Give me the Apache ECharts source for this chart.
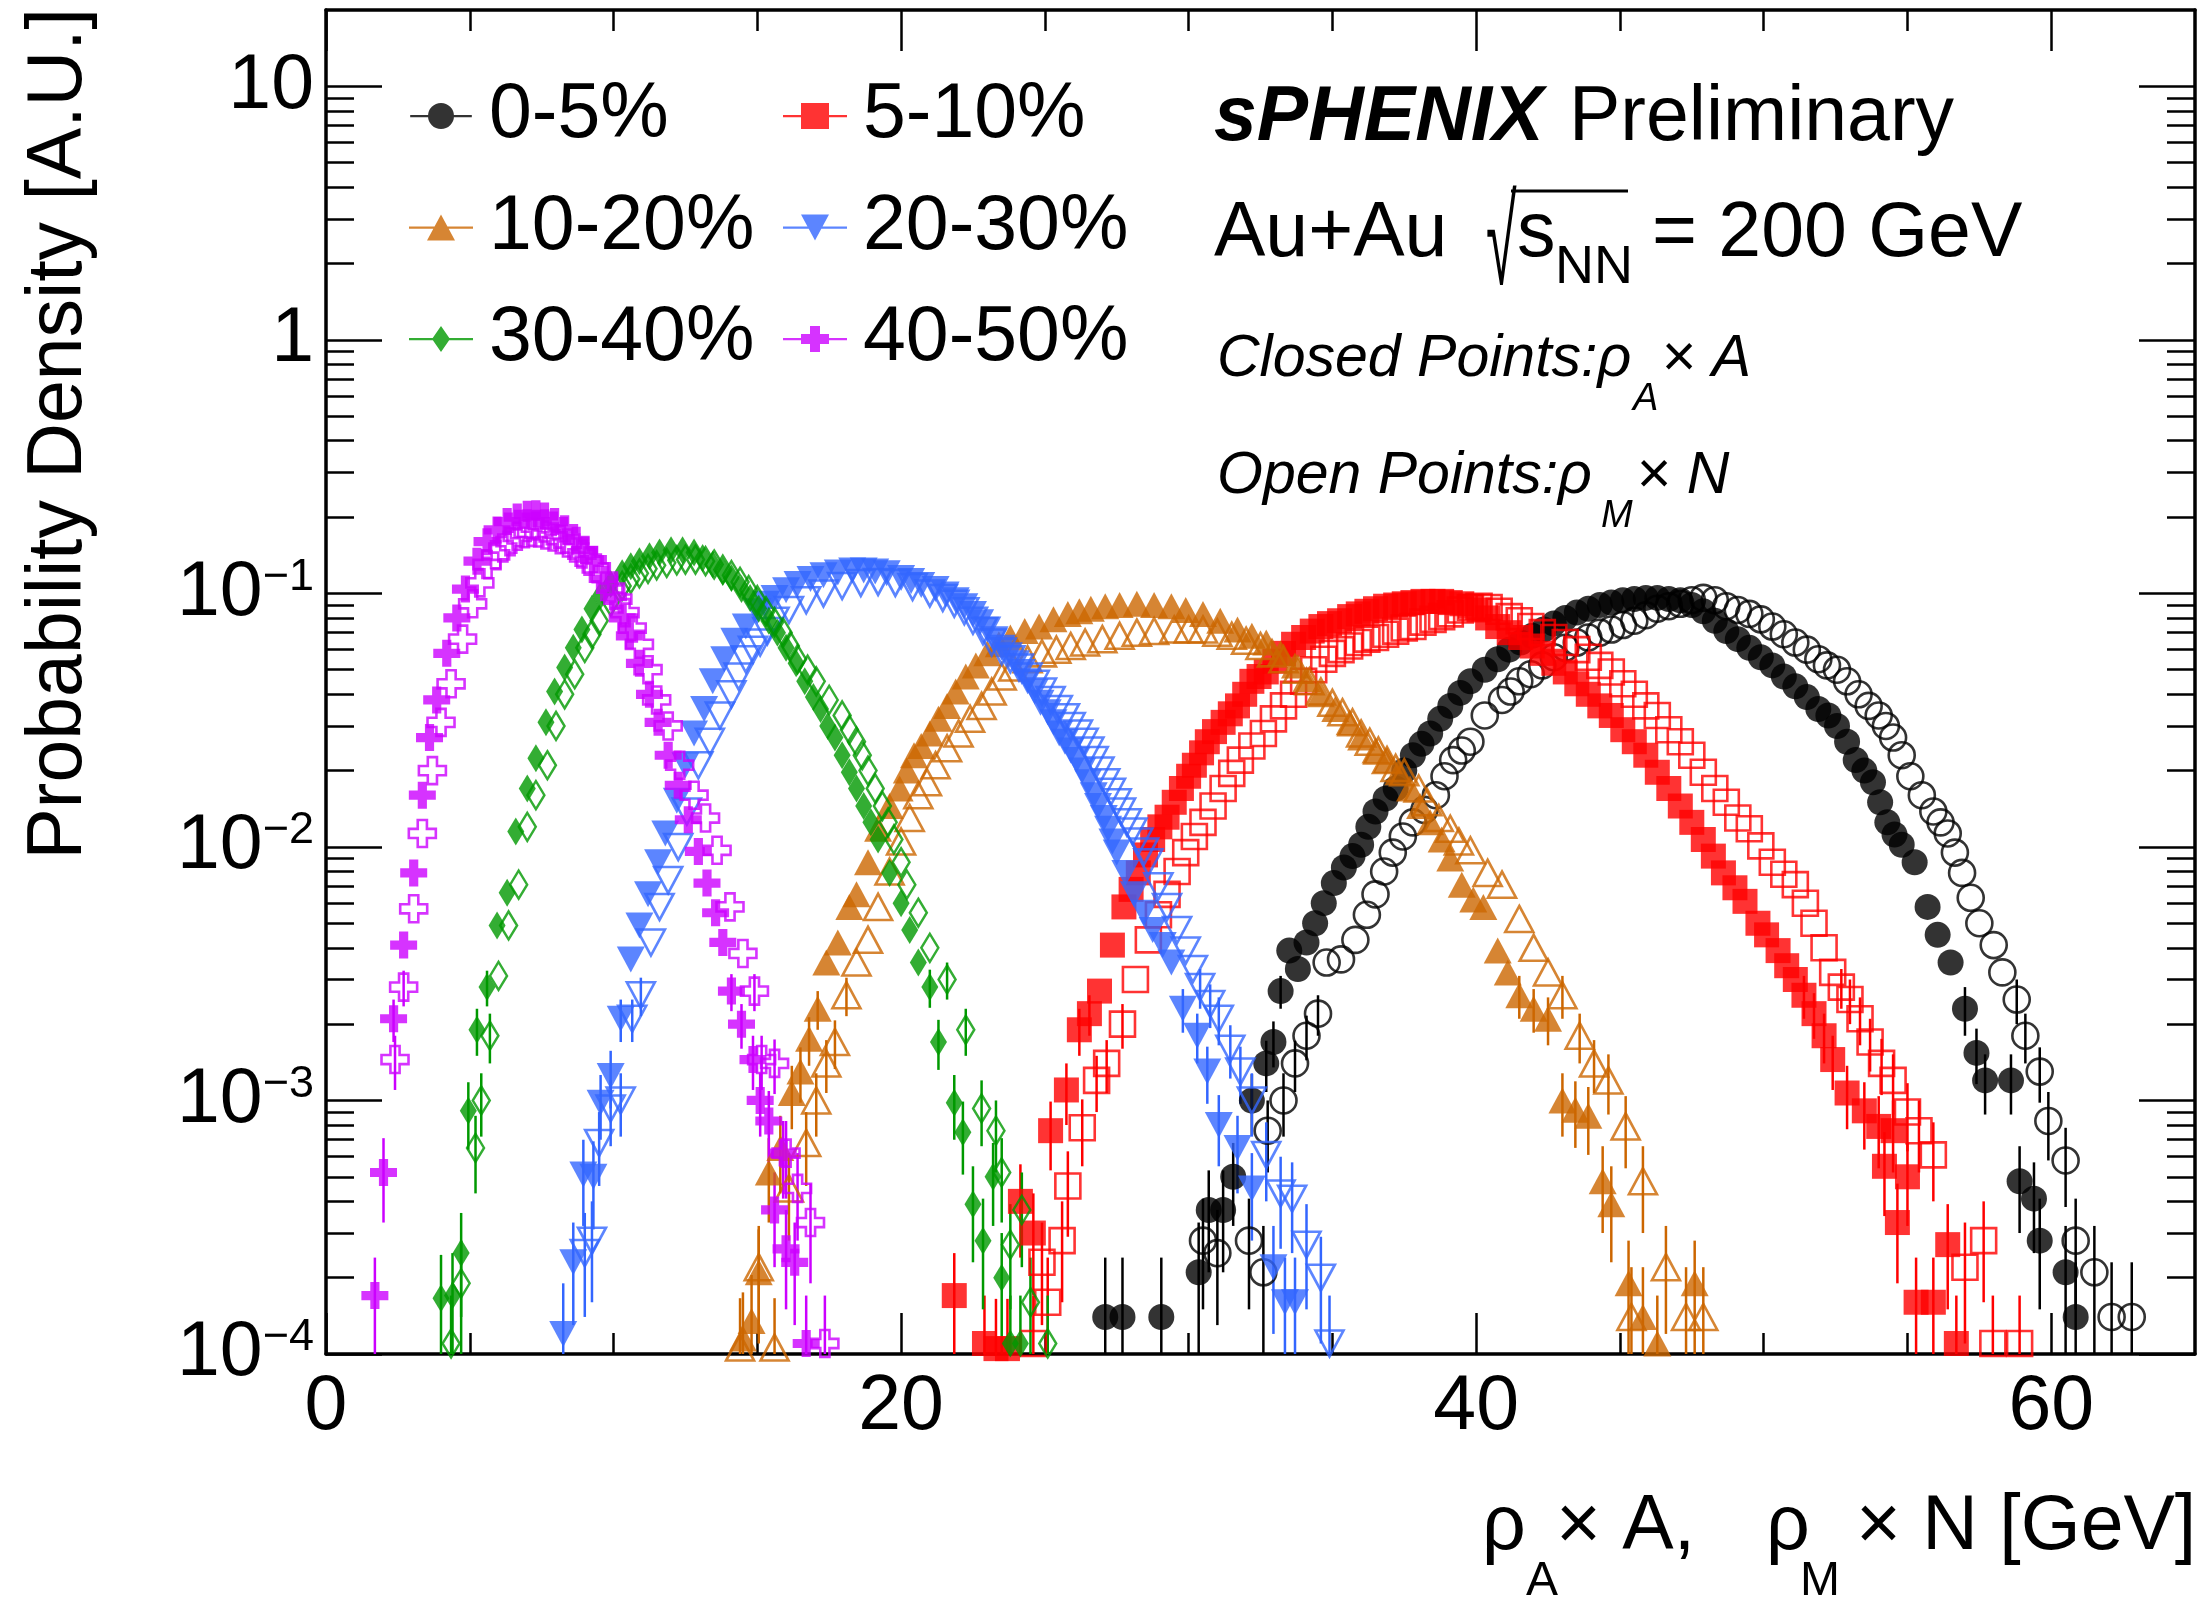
<!DOCTYPE html>
<html>
<head>
<meta charset="utf-8">
<script src="https://cdn.jsdelivr.net/npm/echarts@6/dist/echarts.min.js"></script>
<style>
html,body{margin:0;padding:0;background:#fff;}
#chart{width:2201px;height:1599px;}
</style>
</head>
<body>
<div id="chart"></div>
<script>
// ---------------- data: [x (GeV), probability density, (optional) error] ----------------
const C0_5 = [[27.1,1.4e-4,1.0e-4],[27.7,1.4e-4,1.0e-4],[29.05,1.4e-4,1.0e-4],[30.35,2.1e-4,1.2e-4],[30.7,3.7e-4,1.6e-4],[31.2,3.7e-4,1.6e-4],[31.55,5.0e-4,1.8e-4],[32.2,1.0e-3,2.7e-4],[32.7,1.4e-3,3.2e-4],[32.95,1.7e-3,3.5e-4],[33.2,2.7e-3,4e-4],[33.5,3.9e-3],[33.8,3.3e-3],[34.1,4.2e-3],[34.4,5.0e-3],[34.7,6.0e-3],[35.05,7.2e-3],[35.4,8.3e-3],[35.7,9.2e-3],[36.0,1.02e-2],[36.25,1.2e-2],[36.5,1.38e-2],[36.85,1.55e-2],[37.2,1.7e-2],[37.5,2.0e-2],[37.8,2.3e-2],[38.1,2.55e-2],[38.4,2.8e-2],[38.75,3.2e-2],[39.1,3.6e-2],[39.45,4.05e-2],[39.8,4.5e-2],[40.3,5.0e-2],[40.75,5.5e-2],[41.15,6.0e-2],[41.55,6.4e-2],[41.95,6.8e-2],[42.35,7.2e-2],[42.7,7.6e-2],[43.1,8.0e-2],[43.5,8.4e-2],[43.9,8.7e-2],[44.3,9.0e-2],[44.7,9.2e-2],[45.1,9.4e-2],[45.5,9.5e-2],[45.9,9.6e-2],[46.3,9.6e-2],[46.7,9.5e-2],[47.1,9.4e-2],[47.5,9.0e-2],[47.9,8.5e-2],[48.3,7.8e-2],[48.7,7.1e-2],[49.1,6.6e-2],[49.5,6.1e-2],[49.9,5.6e-2],[50.3,5.2e-2],[50.7,4.7e-2],[51.1,4.3e-2],[51.5,3.9e-2],[51.9,3.5e-2],[52.25,3.3e-2],[52.55,3.0e-2],[52.9,2.6e-2],[53.2,2.2e-2],[53.5,2.0e-2],[53.8,1.8e-2],[54.05,1.5e-2],[54.3,1.25e-2],[54.55,1.12e-2],[54.8,1.02e-2],[55.25,8.7e-3],[55.7,5.8e-3],[56.05,4.5e-3],[56.5,3.5e-3],[57.0,2.3e-3,5e-4],[57.4,1.54e-3,3.8e-4],[57.7,1.2e-3,3.2e-4],[58.6,1.2e-3,3.2e-4],[58.9,4.8e-4,1.8e-4],[59.4,4.1e-4,1.6e-4],[59.6,2.8e-4,1.3e-4],[60.5,2.1e-4,1.1e-4],[60.85,1.4e-4,0.9e-4]];
const O0_5 = [[30.5,2.8e-4,1.3e-4],[31.0,2.5e-4,1.2e-4],[32.1,2.8e-4,1.3e-4],[32.6,2.1e-4,1.1e-4],[32.75,7.6e-4,2.4e-4],[33.3,1.0e-3,2.8e-4],[33.7,1.4e-3,3.2e-4],[34.1,1.8e-3,3.6e-4],[34.5,2.2e-3,4e-4],[34.8,3.5e-3],[35.3,3.6e-3],[35.8,4.3e-3],[36.2,5.4e-3],[36.5,6.5e-3],[36.8,8.0e-3],[37.1,9.5e-3],[37.45,1.1e-2],[37.8,1.25e-2],[38.2,1.4e-2],[38.6,1.6e-2],[38.9,1.9e-2],[39.2,2.2e-2],[39.5,2.4e-2],[39.8,2.6e-2],[40.3,3.3e-2],[40.9,3.8e-2],[41.2,4.1e-2],[41.5,4.5e-2],[41.9,4.8e-2],[42.3,5.2e-2],[42.7,5.6e-2],[43.1,6.1e-2],[43.5,6.4e-2],[43.9,6.7e-2],[44.3,7.0e-2],[44.7,7.2e-2],[45.1,7.5e-2],[45.5,7.8e-2],[45.9,8.2e-2],[46.3,8.7e-2],[46.7,8.9e-2],[47.1,9.1e-2],[47.5,9.4e-2],[47.9,9.6e-2],[48.3,9.4e-2],[48.7,8.9e-2],[49.1,8.6e-2],[49.5,8.3e-2],[49.9,7.9e-2],[50.3,7.4e-2],[50.7,6.9e-2],[51.1,6.4e-2],[51.5,6.0e-2],[51.9,5.5e-2],[52.2,5.2e-2],[52.55,5.0e-2],[52.9,4.5e-2],[53.3,4.0e-2],[53.65,3.6e-2],[54.0,3.3e-2],[54.25,3.0e-2],[54.5,2.7e-2],[54.8,2.3e-2],[55.1,1.9e-2],[55.5,1.6e-2],[55.9,1.38e-2],[56.15,1.25e-2],[56.4,1.13e-2],[56.65,9.5e-3],[56.9,7.9e-3],[57.2,6.3e-3],[57.5,5.0e-3],[58.0,4.1e-3],[58.3,3.2e-3],[58.8,2.5e-3,5e-4],[59.1,1.8e-3,4e-4],[59.6,1.3e-3,3.2e-4],[59.9,8.3e-4,2.5e-4],[60.5,5.8e-4,2.0e-4],[60.85,2.8e-4,1.3e-4],[61.5,2.1e-4,1.1e-4],[62.1,1.4e-4,0.9e-4],[62.8,1.4e-4,0.9e-4]];

const C5_10 = [[21.85,1.7e-4,0.8e-4],[22.9,1.1e-4,0.6e-4],[23.3,1.05e-4,0.6e-4],[23.7,1.05e-4,0.6e-4],[24.15,4.0e-4,1.6e-4],[24.6,3.0e-4,1.3e-4],[25.2,7.6e-4,2.3e-4],[25.75,1.1e-3,3e-4],[26.2,1.9e-3,4e-4],[26.55,2.2e-3,4e-4],[26.9,2.7e-3],[27.35,4.1e-3],[27.75,5.8e-3],[28.0,6.8e-3],[28.25,7.9e-3],[28.5,9.3e-3],[28.75,1.07e-2],[29.0,1.2e-2],[29.25,1.31e-2],[29.5,1.5e-2],[29.75,1.7e-2],[30.0,1.9e-2],[30.2,2.1e-2],[30.45,2.35e-2],[30.65,2.6e-2],[30.9,2.85e-2],[31.2,3.1e-2],[31.45,3.35e-2],[31.7,3.6e-2],[31.95,4.0e-2],[32.2,4.5e-2],[32.45,4.7e-2],[32.7,4.9e-2],[33.0,5.4e-2],[33.3,5.8e-2],[33.65,6.3e-2],[34.0,6.7e-2],[34.3,7.1e-2],[34.6,7.4e-2],[34.9,7.6e-2],[35.25,7.8e-2],[35.6,8.1e-2],[35.9,8.3e-2],[36.2,8.5e-2],[36.5,8.7e-2],[36.85,8.9e-2],[37.2,9.0e-2],[37.5,9.1e-2],[37.8,9.2e-2],[38.15,9.3e-2],[38.5,9.3e-2],[38.8,9.3e-2],[39.1,9.2e-2],[39.5,9.1e-2],[39.8,8.9e-2],[40.1,8.6e-2],[40.4,8.0e-2],[40.75,7.4e-2],[41.15,7.0e-2],[41.55,6.7e-2],[41.95,6.2e-2],[42.3,5.8e-2],[42.7,5.3e-2],[43.1,4.9e-2],[43.5,4.4e-2],[43.9,4.0e-2],[44.3,3.6e-2],[44.7,3.3e-2],[45.1,2.9e-2],[45.5,2.6e-2],[45.9,2.3e-2],[46.3,1.97e-2],[46.7,1.7e-2],[47.1,1.45e-2],[47.5,1.25e-2],[47.9,1.07e-2],[48.25,9.2e-3],[48.6,7.9e-3],[49.0,6.9e-3],[49.35,6.1e-3],[49.8,5.0e-3],[50.1,4.5e-3],[50.5,3.9e-3],[50.8,3.4e-3],[51.1,3.0e-3],[51.4,2.6e-3,5e-4],[51.75,2.2e-3,4.5e-4],[52.1,1.8e-3,4e-4],[52.4,1.45e-3,3.5e-4],[52.9,1.07e-3,3e-4],[53.5,9.1e-4,2.7e-4],[54.0,7.9e-4,2.5e-4],[54.2,5.5e-4,2e-4],[54.5,7.6e-4,2.4e-4],[54.65,3.3e-4,1.4e-4],[55.0,5.0e-4,1.8e-4],[55.3,1.6e-4,0.8e-4],[55.9,1.6e-4,0.8e-4],[56.4,2.7e-4,1.2e-4],[56.7,1.1e-4,0.6e-4]];
const O5_10 = [[24.6,1.1e-4,0.6e-4],[24.9,2.3e-4,1.0e-4],[25.1,1.6e-4,0.8e-4],[25.6,2.8e-4,1.2e-4],[25.8,4.6e-4,1.7e-4],[26.3,7.8e-4,2.3e-4],[26.8,1.2e-3,3e-4],[27.15,1.4e-3,3.3e-4],[27.7,2.0e-3,4e-4],[28.15,3.0e-3],[28.6,4.3e-3],[28.95,5.4e-3],[29.25,6.5e-3],[29.6,8.0e-3],[29.9,9.5e-3],[30.2,1.1e-2],[30.5,1.25e-2],[30.85,1.45e-2],[31.2,1.7e-2],[31.5,1.95e-2],[31.8,2.2e-2],[32.2,2.5e-2],[32.6,2.8e-2],[32.95,3.2e-2],[33.3,3.6e-2],[33.65,4.0e-2],[34.0,4.5e-2],[34.35,5.0e-2],[34.7,5.5e-2],[35.0,5.8e-2],[35.3,6.0e-2],[35.6,6.2e-2],[35.9,6.4e-2],[36.2,6.6e-2],[36.5,6.7e-2],[36.85,6.9e-2],[37.2,7.1e-2],[37.5,7.3e-2],[37.8,7.4e-2],[38.15,7.7e-2],[38.5,7.9e-2],[38.8,8.1e-2],[39.1,8.3e-2],[39.45,8.6e-2],[39.8,8.8e-2],[40.1,8.9e-2],[40.45,8.8e-2],[40.8,8.5e-2],[41.15,8.1e-2],[41.5,7.8e-2],[41.9,7.4e-2],[42.3,7.0e-2],[42.7,6.7e-2],[43.1,6.4e-2],[43.5,6.0e-2],[43.9,5.6e-2],[44.3,5.2e-2],[44.7,4.9e-2],[45.1,4.4e-2],[45.5,4.0e-2],[45.9,3.6e-2],[46.3,3.3e-2],[46.7,2.9e-2],[47.1,2.6e-2],[47.5,2.3e-2],[47.9,1.97e-2],[48.3,1.7e-2],[48.7,1.5e-2],[49.1,1.3e-2],[49.5,1.18e-2],[49.9,1.01e-2],[50.3,8.7e-3],[50.7,7.8e-3],[51.1,7.1e-3],[51.45,6.0e-3],[51.75,5.0e-3],[52.1,4.0e-3],[52.4,3.2e-3],[52.7,2.8e-3,5e-4],[53.0,2.5e-3,5e-4],[53.35,2.1e-3,4.5e-4],[53.7,1.7e-3,4e-4],[54.1,1.4e-3,3.5e-4],[54.5,1.2e-3,3.2e-4],[55.0,9.0e-4,2.7e-4],[55.4,7.6e-4,2.4e-4],[55.9,6.1e-4,2.1e-4],[57.0,2.2e-4,1.1e-4],[57.65,2.8e-4,1.2e-4],[57.97,1.1e-4,0.6e-4],[58.9,1.1e-4,0.6e-4]];

const C10_20 = [[14.5,1.15e-4,0.6e-4],[14.8,1.35e-4,0.7e-4],[15.05,2.1e-4,1.0e-4],[15.4,5.2e-4,1.9e-4],[15.8,6.5e-4,2.2e-4],[16.2,1.07e-3,3e-4],[16.5,1.3e-3,3.2e-4],[16.8,1.75e-3,3.8e-4],[17.1,2.3e-3,4e-4],[17.4,3.5e-3],[17.8,4.2e-3],[18.2,5.8e-3],[18.45,6.5e-3],[18.85,8.7e-3],[19.2,1.18e-2],[19.6,1.45e-2],[19.95,1.7e-2],[20.2,2.0e-2],[20.45,2.3e-2],[20.7,2.5e-2],[21.0,2.8e-2],[21.3,3.2e-2],[21.6,3.6e-2],[21.9,4.1e-2],[22.25,4.7e-2],[22.6,5.2e-2],[23.0,5.8e-2],[23.4,6.3e-2],[23.8,6.7e-2],[24.3,7.1e-2],[24.8,7.4e-2],[25.3,7.9e-2],[25.8,8.3e-2],[26.2,8.5e-2],[26.6,8.7e-2],[27.1,8.9e-2],[27.6,9.0e-2],[28.2,9.1e-2],[28.8,9.0e-2],[29.4,8.9e-2],[29.9,8.6e-2],[30.5,8.3e-2],[31.1,7.8e-2],[31.7,7.2e-2],[32.2,6.8e-2],[32.7,6.4e-2],[33.2,5.8e-2],[33.7,5.2e-2],[34.1,4.6e-2],[34.6,4.0e-2],[35.1,3.5e-2],[35.6,3.1e-2],[36.0,2.7e-2],[36.5,2.4e-2],[36.9,2.2e-2],[37.3,1.97e-2],[37.7,1.7e-2],[38.05,1.45e-2],[38.4,1.25e-2],[38.8,1.07e-2],[39.1,9.0e-3],[39.5,7.1e-3],[39.9,6.2e-3],[40.25,5.8e-3],[40.75,3.9e-3],[41.1,3.2e-3],[41.5,2.6e-3,5e-4],[42.0,2.3e-3,4.5e-4],[42.5,2.1e-3,4.5e-4],[43.0,1.0e-3,2.8e-4],[43.45,9.2e-4,2.7e-4],[43.9,8.7e-4,2.6e-4],[44.4,4.8e-4,1.8e-4],[44.7,3.9e-4,1.6e-4],[45.3,1.9e-4,0.9e-4],[45.8,1.4e-4,0.8e-4],[46.3,1.1e-4,0.6e-4],[47.6,1.9e-4,0.9e-4]];
const O10_20 = [[14.4,1.06e-4,0.6e-4],[15.05,2.2e-4,1.0e-4],[15.6,1.06e-4,0.6e-4],[16.1,4.5e-4,1.7e-4],[16.7,6.8e-4,2.2e-4],[17.05,1.0e-3,2.8e-4],[17.4,1.4e-3,3.3e-4],[17.7,1.7e-3,3.7e-4],[18.1,2.6e-3,4.5e-4],[18.45,3.5e-3],[18.85,4.3e-3],[19.2,5.8e-3],[19.6,8.0e-3],[20.0,1.05e-2],[20.3,1.3e-2],[20.6,1.6e-2],[20.9,1.8e-2],[21.2,2.1e-2],[21.6,2.45e-2],[22.0,2.8e-2],[22.4,3.2e-2],[22.8,3.6e-2],[23.15,4.1e-2],[23.5,4.7e-2],[23.9,5.1e-2],[24.4,5.5e-2],[24.9,5.8e-2],[25.4,6.0e-2],[25.9,6.2e-2],[26.4,6.4e-2],[27.0,6.6e-2],[27.6,6.8e-2],[28.2,7.0e-2],[28.8,7.1e-2],[29.5,7.2e-2],[30.0,7.2e-2],[30.5,7.2e-2],[31.0,7.0e-2],[31.5,6.8e-2],[32.0,6.5e-2],[32.5,6.2e-2],[32.9,5.8e-2],[33.3,5.5e-2],[33.8,5.0e-2],[34.2,4.5e-2],[34.6,4.1e-2],[35.0,3.7e-2],[35.35,3.4e-2],[35.7,3.1e-2],[36.0,2.8e-2],[36.3,2.6e-2],[36.6,2.4e-2],[36.9,2.2e-2],[37.2,2.05e-2],[37.5,1.97e-2],[38.0,1.7e-2],[38.3,1.5e-2],[38.7,1.3e-2],[39.1,1.18e-2],[39.4,1.05e-2],[39.8,9.7e-3],[40.4,7.9e-3],[40.9,7.1e-3],[41.5,5.2e-3],[42.0,4.0e-3],[42.5,3.2e-3],[43.0,2.6e-3,5e-4],[43.6,1.8e-3,4e-4],[44.1,1.4e-3,3.3e-4],[44.6,1.2e-3,3.2e-4],[45.2,7.9e-4,2.5e-4],[45.4,1.4e-4,0.8e-4],[45.8,4.8e-4,1.8e-4],[46.6,2.2e-4,1.0e-4],[47.3,1.4e-4,0.8e-4],[47.9,1.4e-4,0.8e-4]];

const C20_30 = [[8.25,1.2e-4,0.7e-4],[8.6,2.3e-4,1.0e-4],[8.95,5.1e-4,1.9e-4],[9.3,5.0e-4,1.9e-4],[9.55,9.8e-4,2.8e-4],[9.9,1.25e-3,3.2e-4],[10.25,2.1e-3,4e-4],[10.6,3.6e-3],[10.9,4.9e-3],[11.2,6.5e-3],[11.55,8.7e-3],[11.8,1.13e-2],[12.2,1.52e-2],[12.5,2.1e-2],[12.8,2.8e-2],[13.15,3.5e-2],[13.45,4.5e-2],[13.85,5.5e-2],[14.2,6.5e-2],[14.6,7.4e-2],[15.0,8.5e-2],[15.3,9.1e-2],[15.6,9.6e-2],[16.0,1.03e-1],[16.4,1.09e-1],[16.85,1.14e-1],[17.3,1.18e-1],[17.8,1.21e-1],[18.3,1.23e-1],[18.7,1.23e-1],[19.1,1.22e-1],[19.5,1.2e-1],[20.0,1.15e-1],[20.35,1.12e-1],[20.7,1.08e-1],[21.2,1.04e-1],[21.55,9.9e-2],[21.9,9.4e-2],[22.2,8.9e-2],[22.5,8.3e-2],[22.75,7.7e-2],[23.0,7.2e-2],[23.25,6.6e-2],[23.5,6.1e-2],[23.75,5.7e-2],[24.0,5.3e-2],[24.2,4.9e-2],[24.4,4.5e-2],[24.65,4.1e-2],[24.85,3.7e-2],[25.1,3.4e-2],[25.3,3.1e-2],[25.5,2.8e-2],[25.7,2.6e-2],[25.9,2.4e-2],[26.1,2.2e-2],[26.3,2.0e-2],[26.5,1.8e-2],[26.7,1.6e-2],[26.85,1.45e-2],[27.05,1.3e-2],[27.2,1.18e-2],[27.35,1.05e-2],[27.5,9.5e-3],[27.8,7.9e-3],[28.1,6.5e-3],[28.45,5.5e-3],[28.75,4.7e-3],[29.1,4.1e-3],[29.4,3.5e-3],[29.8,2.3e-3,4.5e-4],[30.3,1.8e-3,4e-4],[30.65,1.3e-3,3.3e-4],[31.05,8.0e-4,2.5e-4],[31.7,6.5e-4,2.2e-4],[32.2,4.5e-4,1.7e-4],[32.95,2.2e-4,1.0e-4],[33.35,1.6e-4,0.8e-4],[33.7,1.6e-4,0.8e-4]];
const O20_30 = [[9.0,2.5e-4,1.1e-4],[9.25,2.8e-4,1.2e-4],[9.5,6.8e-4,2.2e-4],[9.9,9.3e-4,2.7e-4],[10.25,1.0e-3,2.8e-4],[10.65,2.1e-3,4e-4],[10.95,2.6e-3,4.5e-4],[11.3,4.2e-3],[11.6,5.8e-3],[11.9,7.4e-3],[12.25,1.0e-2],[12.55,1.38e-2],[12.95,2.1e-2],[13.35,2.6e-2],[13.7,3.3e-2],[14.1,4.0e-2],[14.35,4.7e-2],[14.6,5.5e-2],[14.85,6.0e-2],[15.1,6.4e-2],[15.35,7.1e-2],[15.6,7.8e-2],[16.1,8.6e-2],[16.7,9.4e-2],[17.3,1.0e-1],[17.95,1.07e-1],[18.6,1.1e-1],[19.2,1.11e-1],[19.8,1.1e-1],[20.4,1.06e-1],[21.0,1.0e-1],[21.45,9.6e-2],[21.85,9.1e-2],[22.2,8.5e-2],[22.5,7.8e-2],[22.85,7.1e-2],[23.15,6.4e-2],[23.5,5.9e-2],[23.8,5.5e-2],[24.1,5.1e-2],[24.4,4.7e-2],[24.65,4.4e-2],[24.9,4.1e-2],[25.2,3.8e-2],[25.45,3.5e-2],[25.7,3.25e-2],[25.9,3.0e-2],[26.15,2.8e-2],[26.35,2.6e-2],[26.55,2.4e-2],[26.7,2.2e-2],[26.9,2.0e-2],[27.1,1.8e-2],[27.3,1.65e-2],[27.5,1.5e-2],[27.65,1.38e-2],[27.85,1.25e-2],[28.05,1.15e-2],[28.25,1.05e-2],[28.45,9.6e-3],[28.6,8.7e-3],[28.95,7.0e-3],[29.25,5.8e-3],[29.6,4.7e-3],[29.9,3.9e-3],[30.15,3.3e-3],[30.4,2.8e-3,5e-4],[30.75,2.4e-3,4.7e-4],[31.05,2.1e-3,4.5e-4],[31.45,1.6e-3,3.8e-4],[31.8,1.3e-3,3.3e-4],[32.2,1.0e-3,2.8e-4],[32.7,6.1e-4,2.1e-4],[33.2,4.3e-4,1.7e-4],[33.6,4.1e-4,1.6e-4],[34.1,2.7e-4,1.2e-4],[34.6,2.0e-4,0.9e-4],[34.9,1.1e-4,0.6e-4]];

const C30_40 = [[4.0,1.66e-4,0.8e-4],[4.4,1.7e-4,0.8e-4],[4.7,2.5e-4,1.1e-4],[4.95,9.1e-4,2.7e-4],[5.25,1.9e-3,4e-4],[5.6,2.8e-3,4.5e-4],[5.95,4.9e-3],[6.3,6.6e-3],[6.6,1.15e-2],[7.0,1.7e-2],[7.3,2.24e-2],[7.65,3.1e-2],[7.95,4.1e-2],[8.3,5.1e-2],[8.6,6.1e-2],[8.9,7.2e-2],[9.25,8.7e-2],[9.55,9.8e-2],[9.9,1.09e-1],[10.3,1.2e-1],[10.6,1.28e-1],[10.9,1.34e-1],[11.25,1.4e-1],[11.6,1.45e-1],[12.0,1.48e-1],[12.4,1.48e-1],[12.8,1.45e-1],[13.1,1.38e-1],[13.45,1.3e-1],[13.8,1.22e-1],[14.1,1.15e-1],[14.45,1.04e-1],[14.75,9.6e-2],[15.05,8.7e-2],[15.4,7.8e-2],[15.7,7.0e-2],[16.0,6.1e-2],[16.35,5.3e-2],[16.65,4.5e-2],[16.95,3.9e-2],[17.2,3.5e-2],[17.45,3.0e-2],[17.7,2.7e-2],[17.95,2.3e-2],[18.2,1.97e-2],[18.45,1.7e-2],[18.7,1.45e-2],[18.95,1.25e-2],[19.2,1.07e-2],[19.6,7.9e-3],[20.0,6.0e-3],[20.3,4.7e-3],[20.6,3.5e-3],[21.0,2.8e-3,4.8e-4],[21.3,1.7e-3,3.8e-4],[21.85,9.8e-4,2.8e-4],[22.15,7.5e-4,2.4e-4],[22.5,3.9e-4,1.6e-4],[22.85,2.8e-4,1.3e-4],[23.2,5.0e-4,1.8e-4],[23.5,2.0e-4,1.0e-4],[23.8,1.1e-4,0.6e-4],[24.15,1.1e-4,0.6e-4]];
const O30_40 = [[4.35,1.1e-4,0.6e-4],[4.7,1.9e-4,0.9e-4],[5.2,6.5e-4,2.2e-4],[5.4,1.0e-3,2.8e-4],[5.7,1.8e-3,4e-4],[6.0,3.1e-3],[6.35,4.9e-3],[6.7,7.1e-3],[7.0,1.2e-2],[7.3,1.6e-2],[7.7,2.1e-2],[8.0,3.0e-2],[8.3,4.0e-2],[8.65,4.8e-2],[9.0,6.1e-2],[9.25,6.9e-2],[9.5,7.8e-2],[9.9,9.3e-2],[10.3,1.07e-1],[10.6,1.14e-1],[10.9,1.2e-1],[11.2,1.25e-1],[11.5,1.29e-1],[11.85,1.32e-1],[12.2,1.35e-1],[12.5,1.36e-1],[12.85,1.36e-1],[13.2,1.34e-1],[13.5,1.3e-1],[13.8,1.24e-1],[14.1,1.18e-1],[14.4,1.11e-1],[14.7,1.03e-1],[15.0,9.4e-2],[15.3,8.5e-2],[15.6,7.7e-2],[15.9,7.0e-2],[16.15,6.2e-2],[16.4,5.5e-2],[16.75,5.0e-2],[17.05,4.5e-2],[17.5,3.8e-2],[17.95,3.3e-2],[18.2,2.9e-2],[18.45,2.6e-2],[18.65,2.3e-2],[18.85,2.0e-2],[19.1,1.7e-2],[19.35,1.45e-2],[19.55,1.25e-2],[19.75,1.07e-2],[20.0,8.7e-3],[20.2,7.1e-3],[20.6,5.5e-3],[21.0,4.0e-3],[21.6,3.0e-3,5e-4],[22.25,1.9e-3,4e-4],[22.8,9.3e-4,2.7e-4],[23.3,7.6e-4,2.4e-4],[23.5,5.2e-4,1.9e-4],[23.8,2.7e-4,1.2e-4],[24.2,3.7e-4,1.5e-4],[24.5,1.6e-4,0.8e-4],[25.1,1.1e-4,0.6e-4]];

const C40_50 = [[1.7,1.7e-4,0.7e-4],[2.0,5.2e-4,1.9e-4],[2.35,2.1e-3,4e-4],[2.7,4.1e-3],[3.05,7.9e-3],[3.35,1.6e-2],[3.6,2.7e-2],[3.85,3.8e-2],[4.2,5.8e-2],[4.55,8.0e-2],[4.85,1.04e-1],[5.25,1.34e-1],[5.6,1.6e-1],[5.95,1.78e-1],[6.3,1.92e-1],[6.65,2.0e-1],[7.0,2.05e-1],[7.3,2.06e-1],[7.6,2.02e-1],[7.95,1.92e-1],[8.3,1.8e-1],[8.7,1.62e-1],[9.0,1.48e-1],[9.3,1.36e-1],[9.7,1.14e-1],[10.0,9.7e-2],[10.3,8.0e-2],[10.55,6.8e-2],[10.9,5.3e-2],[11.25,4.0e-2],[11.55,3.1e-2],[11.9,2.3e-2],[12.25,1.75e-2],[12.6,1.28e-2],[12.95,9.6e-3],[13.25,7.2e-3],[13.55,5.5e-3],[13.8,4.2e-3],[14.1,2.7e-3,4.5e-4],[14.45,2.0e-3,4e-4],[14.85,1.45e-3,3.5e-4],[15.1,1.0e-3,2.8e-4],[15.4,8.3e-4,2.6e-4],[15.6,3.7e-4,1.5e-4],[15.9,6.2e-4,2.1e-4],[16.0,2.6e-4,1.1e-4],[16.3,2.3e-4,1.0e-4],[16.7,1.1e-4,0.6e-4]];
const O40_50 = [[2.4,1.45e-3,3.5e-4],[2.7,2.8e-3,4.5e-4],[3.05,5.7e-3],[3.35,1.13e-2],[3.7,2.0e-2],[4.0,3.1e-2],[4.35,4.4e-2],[4.75,6.6e-2],[5.1,9.1e-2],[5.35,1.1e-1],[5.6,1.3e-1],[5.9,1.42e-1],[6.15,1.51e-1],[6.4,1.6e-1],[6.65,1.68e-1],[6.9,1.72e-1],[7.15,1.74e-1],[7.4,1.73e-1],[7.65,1.7e-1],[7.9,1.67e-1],[8.15,1.63e-1],[8.4,1.58e-1],[8.65,1.51e-1],[8.9,1.43e-1],[9.15,1.34e-1],[9.4,1.26e-1],[9.65,1.16e-1],[9.9,1.05e-1],[10.15,9.5e-2],[10.4,8.4e-2],[10.65,7.3e-2],[10.9,6.3e-2],[11.2,5.0e-2],[11.5,3.8e-2],[11.9,3.0e-2],[12.3,2.1e-2],[12.8,1.6e-2],[13.2,1.3e-2],[13.6,9.7e-3],[14.05,5.8e-3],[14.5,3.8e-3],[14.9,2.7e-3,4.5e-4],[15.15,1.45e-3,3.5e-4],[15.6,1.4e-3,3.4e-4],[16.0,6.2e-4,2.1e-4],[16.4,4.5e-4,1.7e-4],[16.85,3.3e-4,1.4e-4],[17.35,1.1e-4,0.6e-4]];

// ---------------- categories, ticks, labels ----------------
const CENTRALITY = ['0-5%', '5-10%', '10-20%', '20-30%', '30-40%', '40-50%'];
const CLOSED = [C0_5, C5_10, C10_20, C20_30, C30_40, C40_50];
const OPEN = [O0_5, O5_10, O10_20, O20_30, O30_40, O40_50];
const X_MAJOR = [0, 20, 40, 60];
const X_MINOR = [5, 10, 15, 25, 30, 35, 45, 50, 55];
const Y_MAJOR = [1e-4, 1e-3, 1e-2, 1e-1, 1, 10];
const Y_LABEL_BASE = ['10', '10', '10', '10', '1', '10'];
const Y_LABEL_EXP = ['\u22124', '\u22123', '\u22122', '\u22121', '', ''];
const Y_MINOR_MANTISSA = [2, 3, 4, 5, 6, 7, 8, 9];
const Y_MINOR_DECADES = [1e-4, 1e-3, 1e-2, 1e-1, 1];
const X_RANGE = [0, 65];
const Y_RANGE = [1e-4, 20];

// ---------------- styles ----------------
const FONT = '"Liberation Sans", Arial, Helvetica, sans-serif';
const COLORS = ['#000000', '#ff0000', '#cc6600', '#3366ff', '#009900', '#cc00ff'];
const SYM_TRI_DOWN = 'path://M0,0 L10,0 L5,10 Z';
const SYM_CROSS = 'path://M3.3,0 H6.7 V3.3 H10 V6.7 H6.7 V10 H3.3 V6.7 H0 V3.3 H3.3 Z';
const SYMBOLS = ['circle', 'rect', 'triangle', SYM_TRI_DOWN, 'diamond', SYM_CROSS];
const SIZES = [26, 25, [28, 26], [28, 26], [17, 28], 27];
const LINE = 'M0,12 H64 V14.2 H0 Z ';
const LEGEND_ICONS = [
  'path://' + LINE + 'M18.5,13 A13.5,13.5 0 1,1 45.5,13 A13.5,13.5 0 1,1 18.5,13 Z',
  'path://' + LINE + 'M18,0 H46 V26 H18 Z',
  'path://' + LINE + 'M18,26 L32,0 L46,26 Z',
  'path://' + LINE + 'M18,0 L46,0 L32,26 Z',
  'path://' + LINE + 'M32,0 L41,13 L32,26 L23,13 Z',
  'path://' + LINE + 'M27,0 H37 V8 H46 V18 H37 V26 H27 V18 H18 V8 H27 Z'
];

const yMinor = [];
Y_MINOR_DECADES.forEach(d => Y_MINOR_MANTISSA.forEach(m => yMinor.push(m * d)));

function yLabel(v) {
  const lv = Math.log10(v);
  const i = Y_MAJOR.findIndex(t => Math.abs(Math.log10(t) - lv) < 1e-6);
  if (i < 0) return '';
  return Y_LABEL_EXP[i] ? '{b|' + Y_LABEL_BASE[i] + '}{s|' + Y_LABEL_EXP[i] + '}' : '{b|' + Y_LABEL_BASE[i] + '}';
}

const tickStyle = {color: '#000', width: 2.5};
const frameLine = {show: true, onZero: false, lineStyle: {color: '#000', width: 3.5}};
const noLine = {show: false, onZero: false};

function xAx(pos, vals, len, withLine, withLabel) {
  return {
    type: 'value', min: X_RANGE[0], max: X_RANGE[1], position: pos, offset: 0, gridIndex: 0,
    axisLine: withLine ? frameLine : noLine,
    axisTick: {show: true, inside: true, length: len, lineStyle: tickStyle, customValues: vals},
    axisLabel: withLabel ? {show: true, inside: false, customValues: X_MAJOR, margin: 15, fontSize: 77, fontFamily: FONT, color: '#000'} : {show: false, inside: false},
    splitLine: {show: false}, minorTick: {show: false}
  };
}
function yAx(pos, vals, len, withLine, withLabel) {
  return {
    type: 'log', logBase: 10, min: Y_RANGE[0], max: Y_RANGE[1], position: pos, offset: 0, gridIndex: 0,
    axisLine: withLine ? frameLine : noLine,
    axisTick: {show: true, inside: true, length: len, lineStyle: tickStyle, customValues: vals},
    axisLabel: withLabel ? {
      show: true, inside: false, customValues: Y_MAJOR, margin: 12, color: '#000', formatter: yLabel,
      rich: {
        b: {fontSize: 77, fontFamily: FONT, color: '#000', lineHeight: 77, verticalAlign: 'bottom'},
        s: {fontSize: 45, fontFamily: FONT, color: '#000', lineHeight: 45, verticalAlign: 'top', padding: [0, 0, 44, 0]}
      }
    } : {show: false, inside: false},
    splitLine: {show: false}, minorTick: {show: false}
  };
}

function errRender(color) {
  return function (params, api) {
    const x = api.value(0), y = api.value(1), e = api.value(2);
    if (!(e > 0)) return null;
    const lo = Math.max(y - e, Y_RANGE[0]);
    const p1 = api.coord([x, lo]);
    const p2 = api.coord([x, y + e]);
    return {type: 'line', shape: {x1: p1[0], y1: p1[1], x2: p2[0], y2: p2[1]}, style: {stroke: color, lineWidth: 2.5}};
  };
}

const series = [];
CENTRALITY.forEach((name, i) => {
  [[CLOSED[i], false], [OPEN[i], true]].forEach(([arr, open]) => {
    series.push({
      type: 'custom', name: name + (open ? ' open' : '') + ' err', xAxisIndex: 0, yAxisIndex: 0,
      data: arr.map(d => [d[0], d[1], d.length > 2 ? d[2] : 0]),
      renderItem: errRender(COLORS[i]), clip: true, silent: true, z: 2
    });
    series.push({
      type: 'scatter', name: open ? name + ' open' : name, xAxisIndex: 0, yAxisIndex: 0,
      data: arr.map(d => [d[0], d[1]]),
      symbol: SYMBOLS[i], symbolSize: SIZES[i], symbolKeepAspect: false,
      itemStyle: open ? {color: 'rgba(0,0,0,0)', borderColor: COLORS[i], borderWidth: 2.6}
                      : {color: COLORS[i], borderWidth: 0},
      emphasis: {disabled: true}, silent: true, z: 3, clip: true
    });
  });
});

function legendCol(idx, left) {
  return {
    orient: 'vertical', left: left, top: 76, padding: 0, itemGap: 31.5,
    itemWidth: 64, itemHeight: 26, selectedMode: false,
    data: idx.map(i => ({name: CENTRALITY[i], icon: LEGEND_ICONS[i]})),
    textStyle: {fontSize: 77, fontFamily: FONT, color: '#000', lineHeight: 80, padding: [0, 0, 0, 11]}
  };
}

function txt(text, x, y, font, extra) {
  return Object.assign({type: 'text', x: x, y: y, silent: true,
    style: {text: text, font: font, fill: '#000', textAlign: 'left', textVerticalAlign: 'middle'}}, extra || {});
}
const F77 = '77px ' + FONT;
const FI59 = 'italic 59px ' + FONT;
const FI38 = 'italic 38px ' + FONT;

const option = {
  animation: false,
  backgroundColor: '#ffffff',
  grid: {left: 326, top: 10, width: 1869, height: 1344, show: false, containLabel: false, outerBoundsMode: 'none'},
  xAxis: [xAx('bottom', X_MAJOR, 41, true, true), xAx('bottom', X_MINOR, 21, false, false),
          xAx('top', X_MAJOR, 41, true, false), xAx('top', X_MINOR, 21, false, false)],
  yAxis: [yAx('left', Y_MAJOR, 56, true, true), yAx('left', yMinor, 28, false, false),
          yAx('right', Y_MAJOR, 56, true, false), yAx('right', yMinor, 28, false, false)],
  legend: [legendCol([0, 2, 4], 409), legendCol([1, 3, 5], 783)],
  series: series,
  graphic: {elements: [
    // y-axis title
    txt('Probability Density [A.U.]', 60, 8, F77, {rotation: Math.PI / 2, style: {text: 'Probability Density [A.U.]', font: F77, fill: '#000', textAlign: 'right', textVerticalAlign: 'middle'}}),
    // x-axis title
    txt('\u03c1', 1482, 1528, F77),
    txt('A', 1526, 1582, '48px ' + FONT),
    txt('\u00d7 A,', 1556, 1528, F77),
    txt('\u03c1', 1766, 1528, F77),
    txt('M', 1800, 1582, '48px ' + FONT),
    txt('\u00d7 N [GeV]', 1856, 1528, F77),
    // labels
    txt('sPHENIX', 1214, 119, 'italic bold 77px ' + FONT),
    txt('Preliminary', 1569, 119, F77),
    txt('Au+Au', 1214, 235, F77),
    txt('\u221a', 1486, 250, '96px ' + FONT, {scaleX: 0.58, scaleY: 1.3}),
    {type: 'line', silent: true, shape: {x1: 1511, y1: 191, x2: 1628, y2: 191}, style: {stroke: '#000', lineWidth: 3}},
    txt('s', 1517, 235, F77),
    txt('NN', 1555, 268, '54px ' + FONT),
    txt('= 200 GeV', 1652, 235, F77),
    txt('Closed Points:\u03c1', 1217, 360, FI59),
    txt('A', 1633, 399, FI38),
    txt('\u00d7 A', 1661, 360, FI59),
    txt('Open Points:\u03c1', 1217, 477, FI59),
    txt('M', 1601, 516, FI38),
    txt('\u00d7 N', 1636, 477, FI59)
  ]}
};

const chart = echarts.init(document.getElementById('chart'), null, {renderer: 'canvas', devicePixelRatio: 1, width: 2201, height: 1599});
chart.setOption(option);
</script>
</body>
</html>
